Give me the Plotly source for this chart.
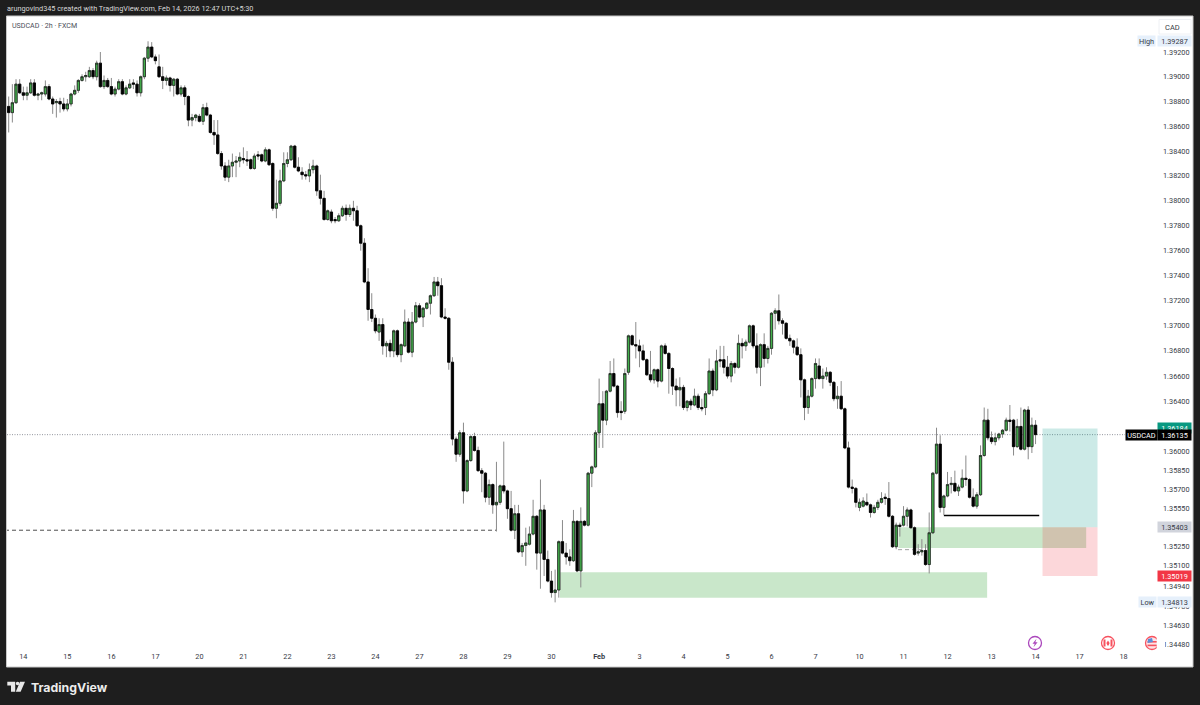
import math
import plotly.graph_objects as go

# USDCAD 2h candles
opens = [
    1.3876,1.3871,1.3879,1.3894,1.3887,1.3885,1.3887,1.3895,1.3885,1.3886,
    1.3886,1.3892,1.3882,1.3879,1.3880,1.3878,1.3874,1.3878,1.3886,1.3889,
    1.3897,1.3900,1.3900,1.3905,1.3900,1.3911,1.3892,1.3897,1.3892,1.3886,
    1.3890,1.3896,1.3886,1.3891,1.3895,1.3894,1.3887,1.3900,1.3915,1.3924,
    1.3916,1.3908,1.3900,1.3897,1.3899,1.3893,1.3898,1.3886,1.3891,1.3884,
    1.3865,1.3867,1.3868,1.3864,1.3875,1.3869,1.3855,1.3853,1.3838,1.3828,
    1.3819,1.3828,1.3831,1.3832,1.3834,1.3833,1.3833,1.3826,1.3837,1.3837,
    1.3832,1.3841,1.3830,1.3794,1.3798,1.3816,1.3830,1.3833,1.3844,1.3827,
    1.3823,1.3821,1.3820,1.3825,1.3828,1.3808,1.3802,1.3785,1.3791,1.3785,
    1.3784,1.3788,1.3794,1.3789,1.3794,1.3792,1.3780,1.3766,1.3735,1.3713,
    1.3706,1.3695,1.3701,1.3684,1.3686,1.3680,1.3696,1.3677,1.3684,1.3703,
    1.3679,1.3703,1.3716,1.3707,1.3714,1.3718,1.3724,1.3735,1.3732,1.3707,
    1.3706,1.3671,1.3610,1.3598,1.3615,1.3569,1.3593,1.3612,1.3601,1.3585,
    1.3583,1.3564,1.3574,1.3558,1.3560,1.3573,1.3569,1.3555,1.3538,1.3551,
    1.3521,1.3526,1.3527,1.3535,1.3549,1.3520,1.3554,1.3515,1.3498,1.3489,
    1.3491,1.3529,1.3520,1.3517,1.3514,1.3545,1.3506,1.3545,1.3542,1.3583,
    1.3588,1.3615,1.3638,1.3625,1.3648,1.3662,1.3652,1.3632,1.3632,1.3663,
    1.3692,1.3685,1.3684,1.3680,1.3673,1.3661,1.3657,1.3665,1.3656,1.3684,
    1.3678,1.3666,1.3652,1.3649,1.3651,1.3635,1.3640,1.3637,1.3644,1.3635,
    1.3635,1.3646,1.3664,1.3649,1.3673,1.3673,1.3667,1.3660,1.3670,1.3667,
    1.3686,1.3684,1.3687,1.3700,1.3684,1.3667,1.3685,1.3674,1.3682,1.3710,
    1.3712,1.3704,1.3702,1.3690,1.3688,1.3683,1.3677,1.3657,1.3635,1.3644,
    1.3658,1.3668,1.3658,1.3660,1.3663,1.3655,1.3642,1.3644,1.3634,1.3603,
    1.3572,1.3571,1.3556,1.3557,1.3560,1.3558,1.3552,1.3556,1.3560,1.3564,
    1.3563,1.3549,1.3525,1.3542,1.3542,1.3549,1.3554,1.3540,1.3520,1.3521,
    1.3522,1.3511,1.3536,1.3583,1.3606,1.3556,1.3565,1.3574,1.3575,1.3569,
    1.3572,1.3579,1.3578,1.3564,1.3557,1.3566,1.3597,1.3625,1.3611,1.3608,
    1.3611,1.3614,1.3617,1.3625,1.3625,1.3604,1.3620,1.3602,1.3633,1.3604,
    1.3621,
]
closes = [
    1.3871,1.3879,1.3894,1.3887,1.3885,1.3887,1.3895,1.3885,1.3886,1.3887,
    1.3892,1.3882,1.3878,1.3880,1.3878,1.3874,1.3878,1.3886,1.3889,1.3897,
    1.3900,1.3901,1.3905,1.3900,1.3911,1.3892,1.3897,1.3892,1.3886,1.3890,
    1.3896,1.3886,1.3891,1.3894,1.3894,1.3887,1.3900,1.3915,1.3924,1.3916,
    1.3913,1.3900,1.3897,1.3899,1.3893,1.3898,1.3886,1.3891,1.3884,1.3865,
    1.3867,1.3869,1.3864,1.3875,1.3869,1.3855,1.3853,1.3838,1.3828,1.3819,
    1.3828,1.3831,1.3832,1.3835,1.3833,1.3832,1.3826,1.3836,1.3836,1.3832,
    1.3841,1.3829,1.3794,1.3798,1.3816,1.3830,1.3833,1.3844,1.3827,1.3824,
    1.3821,1.3820,1.3825,1.3828,1.3808,1.3802,1.3785,1.3792,1.3784,1.3784,
    1.3788,1.3794,1.3789,1.3794,1.3792,1.3780,1.3766,1.3735,1.3713,1.3706,
    1.3696,1.3701,1.3684,1.3686,1.3680,1.3696,1.3677,1.3685,1.3703,1.3679,
    1.3703,1.3716,1.3707,1.3714,1.3718,1.3724,1.3735,1.3732,1.3707,1.3706,
    1.3671,1.3610,1.3598,1.3615,1.3569,1.3593,1.3612,1.3601,1.3585,1.3583,
    1.3564,1.3574,1.3558,1.3560,1.3573,1.3569,1.3555,1.3538,1.3551,1.3521,
    1.3526,1.3528,1.3535,1.3549,1.3520,1.3554,1.3515,1.3498,1.3489,1.3491,
    1.3529,1.3520,1.3517,1.3514,1.3545,1.3506,1.3545,1.3542,1.3583,1.3588,
    1.3615,1.3638,1.3625,1.3648,1.3662,1.3652,1.3631,1.3631,1.3662,1.3692,
    1.3685,1.3684,1.3680,1.3673,1.3661,1.3657,1.3665,1.3656,1.3684,1.3678,
    1.3666,1.3652,1.3649,1.3651,1.3635,1.3640,1.3637,1.3644,1.3635,1.3634,
    1.3646,1.3664,1.3649,1.3672,1.3672,1.3667,1.3660,1.3670,1.3667,1.3686,
    1.3684,1.3687,1.3700,1.3684,1.3667,1.3685,1.3674,1.3682,1.3710,1.3712,
    1.3704,1.3702,1.3690,1.3688,1.3683,1.3677,1.3657,1.3635,1.3644,1.3658,
    1.3670,1.3658,1.3660,1.3663,1.3655,1.3642,1.3644,1.3634,1.3603,1.3572,
    1.3571,1.3560,1.3560,1.3561,1.3558,1.3552,1.3556,1.3560,1.3563,1.3563,
    1.3549,1.3525,1.3542,1.3541,1.3549,1.3554,1.3540,1.3519,1.3521,1.3522,
    1.3511,1.3536,1.3583,1.3606,1.3556,1.3565,1.3574,1.3575,1.3569,1.3572,
    1.3579,1.3578,1.3564,1.3557,1.3566,1.3597,1.3625,1.3611,1.3608,1.3611,
    1.3614,1.3617,1.3625,1.3624,1.3604,1.3620,1.3602,1.3633,1.3604,1.3621,
    1.36135,
]
highs = [
    1.3884,1.3894,1.3898,1.3898,1.3892,1.3892,1.3898,1.3898,1.3887,1.3888,
    1.3897,1.3894,1.3884,1.3882,1.3883,1.3883,1.3882,1.3887,1.3893,1.3898,
    1.3902,1.3904,1.3908,1.3907,1.3913,1.3920,1.3901,1.3899,1.3899,1.3892,
    1.3898,1.3898,1.3893,1.3898,1.3898,1.3897,1.3901,1.3916,1.39287,1.3928,
    1.3918,1.3918,1.3908,1.3901,1.3900,1.3899,1.3899,1.3893,1.3893,1.3885,
    1.3870,1.3870,1.3870,1.3878,1.3879,1.3870,1.3865,1.3865,1.3840,1.3831,
    1.3833,1.3838,1.3836,1.3839,1.3843,1.3840,1.3834,1.3838,1.3840,1.3838,
    1.3843,1.3842,1.3831,1.3817,1.3825,1.3839,1.3839,1.3845,1.3845,1.3835,
    1.3827,1.3824,1.3830,1.3833,1.3829,1.3821,1.3808,1.3793,1.3793,1.3787,
    1.3790,1.3796,1.3797,1.3797,1.3800,1.3796,1.3781,1.3770,1.3746,1.3726,
    1.3709,1.3706,1.3706,1.3688,1.3689,1.3697,1.3697,1.3686,1.3713,1.3706,
    1.3711,1.3719,1.3718,1.3715,1.3719,1.3725,1.3739,1.3739,1.3738,1.3714,
    1.3707,1.3675,1.3612,1.3617,1.3623,1.3594,1.3613,1.3615,1.3604,1.3587,
    1.3584,1.3578,1.3575,1.3592,1.3574,1.3608,1.3570,1.3569,1.3558,1.3558,
    1.3528,1.3540,1.3541,1.3562,1.3550,1.3578,1.3558,1.3522,1.3506,1.3507,
    1.3530,1.3546,1.3528,1.3523,1.3554,1.3546,1.3556,1.3546,1.3584,1.3589,
    1.3617,1.3658,1.3648,1.3649,1.3672,1.3674,1.3653,1.3640,1.3666,1.3693,
    1.3693,1.3703,1.3689,1.3685,1.3674,1.3680,1.3666,1.3666,1.3685,1.3686,
    1.3679,1.3667,1.3658,1.3659,1.3653,1.3641,1.3642,1.3650,1.3646,1.3642,
    1.3648,1.3674,1.3666,1.3681,1.3684,1.3684,1.3676,1.3672,1.3671,1.3693,
    1.3690,1.3689,1.3701,1.3701,1.3694,1.3686,1.3694,1.3684,1.3711,1.3714,
    1.3725,1.3706,1.3703,1.3693,1.3689,1.3690,1.3682,1.3658,1.3649,1.3659,
    1.3674,1.3674,1.3666,1.3667,1.3664,1.3656,1.3652,1.3656,1.3635,1.3608,
    1.3578,1.3572,1.3563,1.3564,1.3567,1.3559,1.3558,1.3562,1.3568,1.3567,
    1.3576,1.3550,1.3544,1.3544,1.3557,1.3556,1.3555,1.3541,1.3527,1.3531,
    1.3527,1.3552,1.3584,1.3619,1.3613,1.3566,1.3584,1.3580,1.3585,1.3574,
    1.3586,1.3597,1.3579,1.3571,1.3568,1.3605,1.3635,1.3634,1.3616,1.3615,
    1.3615,1.3618,1.3627,1.3637,1.3626,1.3626,1.3635,1.3634,1.3636,1.3627,
    1.3625,
]
lows = [
    1.3855,1.3863,1.3878,1.3886,1.3881,1.3881,1.3886,1.3884,1.3881,1.3881,
    1.3884,1.3881,1.3870,1.3867,1.3871,1.3872,1.3872,1.3876,1.3885,1.3887,
    1.3896,1.3896,1.3899,1.3898,1.3897,1.3891,1.3890,1.3891,1.3885,1.3884,
    1.3889,1.3885,1.3885,1.3890,1.3890,1.3884,1.3884,1.3898,1.3912,1.3915,
    1.3910,1.3899,1.3890,1.3893,1.3888,1.3884,1.3885,1.3884,1.3877,1.3860,
    1.3860,1.3864,1.3863,1.3861,1.3868,1.3854,1.3845,1.3837,1.3825,1.3816,
    1.3815,1.3819,1.3819,1.3827,1.3830,1.3828,1.3825,1.3825,1.3833,1.3831,
    1.3831,1.3828,1.3792,1.3786,1.3796,1.3815,1.3827,1.3832,1.3826,1.3823,
    1.3817,1.3817,1.3815,1.3822,1.3804,1.3797,1.3784,1.3784,1.3782,1.3782,
    1.3783,1.3787,1.3784,1.3787,1.3784,1.3779,1.3760,1.3734,1.3704,1.3703,
    1.3694,1.3688,1.3677,1.3675,1.3675,1.3675,1.3675,1.3671,1.3683,1.3678,
    1.3675,1.3702,1.3706,1.3699,1.3713,1.3709,1.3723,1.3724,1.3706,1.3705,
    1.3665,1.3605,1.3592,1.3596,1.3559,1.3568,1.3592,1.3600,1.3584,1.3568,
    1.3560,1.3558,1.3551,1.3537,1.3558,1.3567,1.3547,1.3537,1.3531,1.3520,
    1.3517,1.3510,1.3526,1.3534,1.3507,1.3492,1.3502,1.3497,1.3485,1.34813,
    1.3485,1.3519,1.3511,1.3510,1.3513,1.3505,1.3493,1.3541,1.3541,1.3572,
    1.3587,1.3603,1.3603,1.3621,1.3647,1.3651,1.3627,1.3625,1.3630,1.3661,
    1.3684,1.3674,1.3667,1.3672,1.3660,1.3655,1.3654,1.3651,1.3655,1.3677,
    1.3646,1.3645,1.3636,1.3636,1.3633,1.3632,1.3633,1.3636,1.3633,1.3632,
    1.3629,1.3645,1.3644,1.3648,1.3667,1.3662,1.3658,1.3655,1.3662,1.3666,
    1.3674,1.3680,1.3686,1.3682,1.3662,1.3652,1.3667,1.3670,1.3677,1.3697,
    1.3701,1.3693,1.3689,1.3684,1.3678,1.3676,1.3643,1.3625,1.3630,1.3643,
    1.3650,1.3657,1.3650,1.3657,1.3652,1.3640,1.3634,1.3633,1.3602,1.3571,
    1.3567,1.3556,1.3553,1.3556,1.3557,1.3548,1.3551,1.3554,1.3559,1.3558,
    1.3548,1.3524,1.3523,1.3533,1.3541,1.3541,1.3539,1.3518,1.3518,1.3518,
    1.3510,1.3504,1.3535,1.3582,1.3552,1.3550,1.3564,1.3567,1.3568,1.3565,
    1.3571,1.3573,1.3563,1.3556,1.3555,1.3565,1.3596,1.3609,1.3606,1.3605,
    1.3609,1.3611,1.3616,1.3616,1.3597,1.3603,1.3601,1.3601,1.3594,1.3599,
    1.3606,
]

day_ticks = [4,16,28,40,52,64,76,88,100,112,124,136,148,161,172,184,196,208,220,232,244,256,268,280,292,304]
day_labels = ['14','15','16','17','20','21','22','23','24','27','28','29','30','<b>Feb</b>',
              '3','4','5','6','7','10','11','12','13','14','17','18']
price_ticks = [1.392,1.390,1.388,1.386,1.384,1.382,1.380,1.378,1.376,1.374,1.372,1.370,1.368,1.366,1.364,
               1.360,1.3585,1.357,1.3555,1.3525,1.351,1.3494,1.3478,1.3463,1.3448]

last_price = 1.36135
target_price = 1.36184
entry_price = 1.35403
stop_price = 1.35019
high_price = 1.39287
low_price = 1.34813

# page geometry, in screen pixels
W, H = 1200, 705
L, R, T, B = 7, 1132, 16, 651
AXIS_TOP, AXIS_BOTTOM = 1.39492, 1.34432
BG = '#1e1e1e'
TEXT = '#363a45'
FONT = 'Roboto'


def px(x):
    return (x - L) / (R - L)


def py(y):
    return (B - y) / (B - T)


def paper_rect(x0, y0, x1, y1, fill, line=None, kind='rect', layer='above', width=1):
    return dict(type=kind, xref='paper', yref='paper', x0=px(x0), x1=px(x1), y0=py(y0), y1=py(y1),
                fillcolor=fill, line=dict(color=line, width=width if line else 0), layer=layer)


def poly(points, fill):
    path = 'M ' + ' L '.join(f'{px(x):.5f},{py(y):.5f}' for x, y in points) + ' Z'
    return dict(type='path', xref='paper', yref='paper', path=path, fillcolor=fill, line=dict(width=0), layer='above')


def zone(x0, x1, p0, p1, fill):
    return dict(type='rect', xref='x', yref='y', x0=x0, x1=x1, y0=p0, y1=p1,
                fillcolor=fill, line=dict(width=0), layer='below')


def level(x0, x1, price, color, width, dash):
    return dict(type='line', xref='x', yref='y', x0=x0, x1=x1, y0=price, y1=price,
                line=dict(color=color, width=width, dash=dash), layer='below')


def tag(text, x0, x1, price, bg, fg=TEXT):
    return dict(text=text, xref='paper', yref='y', x=px(x0), y=math.log10(price), xanchor='left',
                width=x1 - x0, height=10, bgcolor=bg, borderpad=0, showarrow=False, align='center',
                font=dict(family=FONT, size=7.3, color=fg))


def label(text, x, y, size, color, anchor='left', family=FONT):
    return dict(text=text, xref='paper', yref='paper', x=px(x), y=py(y), xanchor=anchor, yanchor='middle',
                showarrow=False, font=dict(family=family, size=size, color=color))


bars = list(range(len(opens)))
fig = go.Figure()

# wicks first, grey; bodies over them with a black outline
fig.add_trace(go.Candlestick(
    x=bars, open=opens, high=highs, low=lows, close=closes, hoverinfo='skip', whiskerwidth=0,
    increasing=dict(line=dict(color='#8a8a8a', width=1), fillcolor='#8a8a8a'),
    decreasing=dict(line=dict(color='#8a8a8a', width=1), fillcolor='#8a8a8a')))
fig.add_trace(go.Candlestick(
    x=bars, open=opens, close=closes,
    high=[max(a, b) for a, b in zip(opens, closes)],
    low=[min(a, b) for a, b in zip(opens, closes)],
    whiskerwidth=0,
    increasing=dict(line=dict(color='#1a1a1a', width=0.7), fillcolor='#43b04c'),
    decreasing=dict(line=dict(color='#000000', width=0.8), fillcolor='#000000')))

shapes = [
    paper_rect(6.5, 16, 1193, 667, '#ffffff', '#c8c8c8', layer='below'),
    zone(150.3, 266.8, 1.3505, 1.3485, 'rgba(76,175,80,0.3)'),
    zone(242.6, 293.8, entry_price, 1.3524, 'rgba(76,175,80,0.3)'),
    zone(281.9, 296.9, target_price, entry_price, 'rgba(0,150,136,0.2)'),
    zone(281.9, 296.9, entry_price, stop_price, 'rgba(242,54,69,0.2)'),
    level(-1, 133, 1.3538, '#222222', 0.8, '4px,3px'),
    level(242.5, 249, 1.35227, '#888888', 0.8, '4px,3px'),
    level(255, 281, 1.35497, '#000000', 1.5, 'solid'),
    dict(type='line', xref='paper', yref='y', x0=0, x1=px(1125), y0=last_price, y1=last_price,
         line=dict(color='#777a84', width=0.8, dash='1px,1.5px'), layer='below'),
    paper_rect(1159, 19.5, 1191, 34, '#ffffff', '#eef0f4'),
    # event markers along the bottom
    paper_rect(1028.5, 636.5, 1041.5, 649.5, '#ffffff', '#ab47bc', kind='circle', width=1.3),
    poly([(1036.5, 638.8), (1032.5, 643.8), (1034.8, 643.8), (1033.5, 647.2), (1037.6, 642.2), (1035.3, 642.2)], '#ab47bc'),
    paper_rect(1101.5, 636.5, 1114.5, 649.5, '#ffffff', '#f7525f', kind='circle', width=1.3),
    paper_rect(1103.5, 639.5, 1105.5, 646.5, '#f7525f'),
    paper_rect(1110.5, 639.5, 1112.5, 646.5, '#f7525f'),
    poly([(1108, 640.5), (1109.6, 643), (1108.6, 645.6), (1107.4, 645.6), (1106.4, 643)], '#f7525f'),
    paper_rect(1145.5, 636.5, 1158.5, 649.5, '#fde3e5', '#f7525f', kind='circle', width=1.3),
    paper_rect(1147.5, 641, 1157, 642.6, '#f7525f'),
    paper_rect(1147.5, 644.6, 1157, 646.2, '#f7525f'),
    poly([(1148, 639), (1152, 638), (1153, 642), (1147.5, 643)], '#5b8fd8'),
    paper_rect(1156.7, 634, 1165, 652, '#ffffff'),
    # TradingView mark in the footer
    poly([(7.3, 681.7), (15.2, 681.7), (15.2, 691.7), (11, 691.7), (11, 685.4), (7.3, 685.4)], '#e8e8e8'),
    paper_rect(15.8, 681.7, 19.4, 685.3, '#e8e8e8', kind='circle'),
    poly([(20, 681.7), (25, 681.7), (20.6, 691.7), (15.8, 691.7)], '#e8e8e8'),
]

annotations = [
    label('arungovind345 created with TradingView.com, Feb 14, 2026 12:47 UTC+5:30', 5, 9, 7.3, '#d8d8d8'),
    label('USDCAD · 2h · FXCM', 9.5, 25, 7.1, '#4a4e59'),
    label('<b>TradingView</b>', 28.5, 687, 12.3, '#ececec', family='Inter'),
    label('CAD', 1163, 27, 7.5, TEXT),
    tag('High', 1137, 1154, high_price, '#e6f0fb'),
    tag('1.39287', 1157, 1190, high_price, '#e6f0fb'),
    tag('Low', 1138, 1155, low_price, '#e6f0fb'),
    tag('1.34813', 1157, 1190, low_price, '#e6f0fb'),
    tag('1.36184', 1157, 1190, target_price, '#089981', '#ffffff'),
    tag('USDCAD', 1125, 1156, last_price, '#000000', '#ffffff'),
    tag('1.36135', 1157, 1190, last_price, '#000000', '#ffffff'),
    tag('1.35403', 1157, 1190, entry_price, '#d1d4dc'),
    tag('1.35019', 1157, 1190, stop_price, '#f23645', '#ffffff'),
]

fig.update_layout(
    width=W, height=H, autosize=False,
    margin=dict(l=L, r=W - R, t=T, b=H - B, pad=0),
    paper_bgcolor=BG, plot_bgcolor='#ffffff', boxgap=0.12,
    showlegend=False, shapes=shapes, annotations=annotations,
    font=dict(family=FONT, size=7.3, color=TEXT),
    xaxis=dict(range=[-0.46, 306.3], rangeslider=dict(visible=False), showgrid=False, zeroline=False,
               showline=False, ticks='', tickmode='array', tickvals=day_ticks, ticktext=day_labels,
               tickfont=dict(family=FONT, size=7.3, color=TEXT)),
    yaxis=dict(type='log', side='right', range=[math.log10(AXIS_BOTTOM), math.log10(AXIS_TOP)],
               showgrid=False, zeroline=False, showline=False, ticks='', tickmode='array',
               tickvals=price_ticks, ticktext=[f'{p:.5f}' for p in price_ticks], ticklabelstandoff=30,
               tickfont=dict(family=FONT, size=7.3, color=TEXT)),
)

# the page's default body margin would push the figure off the window
fig.write_html("out.html", config=dict(displayModeBar=False),
               post_script="document.body.style.margin='0';document.body.style.background='#1e1e1e';")
